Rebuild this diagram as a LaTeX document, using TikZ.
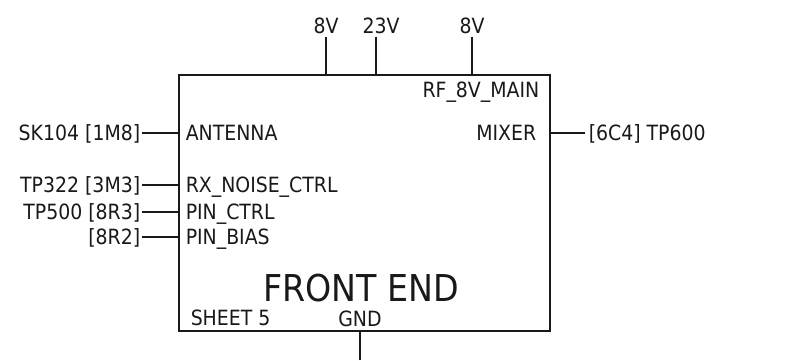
\documentclass[tikz,border=0pt]{standalone}
\usepackage{fontspec}
\setmainfont{DejaVu Sans Condensed}
\usetikzlibrary{positioning}
\begin{document}
\begin{tikzpicture}[x=1pt,y=-1pt, line width=1.5pt, color={black!90},
  every node/.style={font=\fontsize{21}{24}\selectfont, inner sep=0pt},
  blk/.style={draw, inner sep=0pt, minimum width=371pt, minimum height=256pt, anchor=north west}]
  \useasboundingbox (0,0) rectangle (785,360);
  \node[blk] (fe) at (178,74) {};
  % supply pins on top
  \foreach \n/\px/\dx/\t in {va/326/0/8V, vb/376/5/23V, vc/472/0/8V}{
    \coordinate (\n) at (\px,37);
    \draw (\n) -- (\n |- fe.north);
    \node[anchor=base] (\n l) at (\px+\dx,33) {\t};
  }
  \node[anchor=base east] (rf) at (540,97) {RF\_8V\_MAIN};
  % inputs on the left
  \foreach \n/\py/\a/\b in {ant/133/SK104 [1M8]/ANTENNA, rx/185/TP322 [3M3]/RX\_NOISE\_CTRL,
      pc/212/TP500 [8R3]/PIN\_CTRL, pb/237/[8R2]/PIN\_BIAS}{
    \coordinate (\n) at (142,\py);
    \draw (\n) -- (\n -| fe.west);
    \node[anchor=base east] (\n o) at (141,\py+7.5) {\a};
    \node[anchor=base west] (\n i) at (185,\py+7.5) {\b};
  }
  % output on the right
  \coordinate (mx) at (585,133);
  \draw (mx) -- (mx -| fe.east);
  \node[anchor=base east] (mxi) at (537,140.5) {MIXER};
  \node[anchor=base west] (mxo) at (588,140.5) {[6C4] TP600};
  % title and ground
  \node[anchor=base, font=\fontsize{37}{40}\selectfont] (ttl) at (361,301.5) {FRONT END};
  \node[anchor=base west] (sh) at (190,325) {SHEET 5};
  \node[anchor=base] (gndl) at (360,326.5) {GND};
  \coordinate (gnd) at (360,360);
  \draw (gnd) -- (gnd |- fe.south);
\end{tikzpicture}
\end{document}
